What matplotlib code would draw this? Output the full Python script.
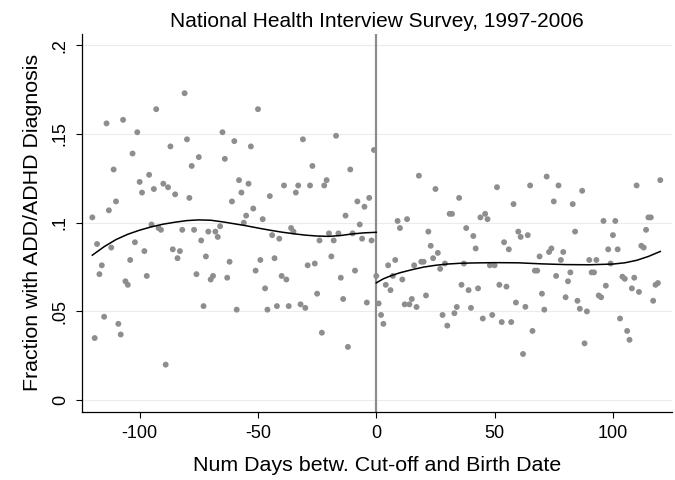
import matplotlib
matplotlib.use("Agg")
import matplotlib.pyplot as plt
import numpy as np

plt.rcParams['font.family'] = ['Liberation Sans', 'DejaVu Sans']
plt.rcParams['axes.unicode_minus'] = False

# ---- data ----
left_days = list(range(-120, 0))
left_vals = [
    0.103, 0.035, 0.088, 0.071, 0.076, 0.047, 0.156, 0.107, 0.086, 0.130,
    0.112, 0.043, 0.037, 0.158, 0.067, 0.065, 0.079, 0.139, 0.089, 0.151,
    0.123, 0.117, 0.084, 0.070, 0.127, 0.099, 0.119, 0.164, 0.097, 0.096,
    0.122, 0.020, 0.120, 0.143, 0.085, 0.116, 0.080, 0.084, 0.096, 0.173,
    0.147, 0.114, 0.132, 0.096, 0.071, 0.137, 0.090, 0.053, 0.081, 0.095,
    0.068, 0.070, 0.095, 0.092, 0.098,
    0.151, 0.136, 0.069, 0.078, 0.112, 0.146, 0.051, 0.124, 0.117, 0.100,
    0.104, 0.122, 0.143, 0.108, 0.073, 0.164, 0.079, 0.102, 0.063, 0.051,
    0.115, 0.093, 0.080, 0.053, 0.091, 0.070, 0.121, 0.068, 0.053, 0.097,
    0.095, 0.117, 0.121, 0.054, 0.147, 0.052, 0.076, 0.121, 0.132, 0.077,
    0.060, 0.090, 0.038, 0.121, 0.124, 0.094, 0.081, 0.090, 0.149, 0.094,
    0.069, 0.057, 0.104, 0.030, 0.130, 0.094, 0.073, 0.112, 0.099, 0.091,
    0.109, 0.055, 0.114, 0.090, 0.141,
]

right_days = list(range(0, 121))
right_vals = [
    0.070, 0.0545, 0.048, 0.043, 0.065, 0.076, 0.062, 0.070, 0.079, 0.101,
    0.097, 0.068, 0.054, 0.102, 0.054, 0.057, 0.076, 0.0525, 0.1265, 0.078,
    0.078, 0.059, 0.095, 0.087, 0.080, 0.119, 0.083, 0.074, 0.048, 0.077,
    0.042, 0.105, 0.105, 0.049, 0.0525, 0.114, 0.065, 0.077, 0.097, 0.062,
    0.052, 0.0925, 0.0855, 0.063, 0.103, 0.046, 0.105, 0.102, 0.076, 0.048,
    0.076, 0.120, 0.065, 0.044, 0.089, 0.064, 0.085, 0.044, 0.1105, 0.055,
    0.095, 0.092, 0.026, 0.0526, 0.093, 0.121, 0.039, 0.073, 0.073, 0.081,
    0.060, 0.051, 0.126, 0.0835, 0.0855, 0.112, 0.070, 0.121, 0.079, 0.0835,
    0.058, 0.067, 0.072, 0.1105, 0.095, 0.056, 0.0515, 0.118, 0.032, 0.050,
    0.079, 0.072, 0.072, 0.079, 0.059, 0.058, 0.101, 0.0645, 0.085, 0.077,
    0.093, 0.101, 0.085, 0.046, 0.0696, 0.0684, 0.039, 0.034, 0.063, 0.069,
    0.121, 0.061, 0.087, 0.086, 0.096, 0.103, 0.103, 0.056, 0.065, 0.066,
    0.124,
]

# fitted curves
left_fit_x = [-120, -115, -110, -105, -100, -95, -90, -85, -80, -75, -70, -65,
              -60, -55, -50, -45, -40, -35, -30, -25, -20, -15, -10, -5, 0]
left_fit_y = [0.0817, 0.0865, 0.0905, 0.0935, 0.0958, 0.0977, 0.0992, 0.1003,
              0.1012, 0.1016, 0.1014, 0.1005, 0.0994, 0.0983, 0.0970, 0.0958,
              0.0947, 0.0938, 0.0930, 0.0925, 0.0923, 0.0928, 0.0937, 0.0943,
              0.0946]
right_fit_x = [0, 3, 6, 10, 15, 20, 25, 30, 35, 40, 50, 60, 70, 80, 90, 100,
               105, 110, 115, 120]
right_fit_y = [0.0661, 0.0684, 0.0700, 0.0718, 0.0735, 0.0750, 0.0760, 0.0767,
               0.0771, 0.0773, 0.0775, 0.0774, 0.0768, 0.0764, 0.0763, 0.0767,
               0.0774, 0.0788, 0.0810, 0.0838]

x_ticks = [-100, -50, 0, 50, 100]
x_ticklabels = ["-100", "-50", "0", "50", "100"]
y_ticks = [0, 0.05, 0.1, 0.15, 0.2]
y_ticklabels = ["0", ".05", ".1", ".15", ".2"]

title = "National Health Interview Survey, 1997-2006"
xlabel = "Num Days betw. Cut-off and Birth Date"
ylabel = "Fraction with ADD/ADHD Diagnosis"

# ---- figure ----
fig = plt.figure(figsize=(6.75, 4.8), dpi=100)
ax = fig.add_axes([0.121, 0.142, 0.874, 0.788])

for yv in y_ticks:
    ax.axhline(yv, color='#ececec', lw=0.8, zorder=0)

ax.axvline(0, color='#8c8c8c', lw=1.6, zorder=1)

ax.scatter(left_days, left_vals, s=18, color='#8e8e8e', edgecolors='none', zorder=2)
ax.scatter(right_days, right_vals, s=18, color='#8e8e8e', edgecolors='none', zorder=2)

ax.plot(left_fit_x, left_fit_y, color='black', lw=1.1, zorder=3)
ax.plot(right_fit_x, right_fit_y, color='black', lw=1.1, zorder=3)

ax.set_xlim(-124.5, 124.8)
ax.set_ylim(-0.0066, 0.2066)

ax.set_xticks(x_ticks)
ax.set_xticklabels(x_ticklabels)
ax.set_yticks(y_ticks)
ax.set_yticklabels(y_ticklabels, rotation=90, va='center')

ax.tick_params(axis='both', direction='out', length=4.3, width=0.8,
               labelsize=13, colors='black', pad=5)

for side in ['top', 'right']:
    ax.spines[side].set_visible(False)
for side in ['left', 'bottom']:
    ax.spines[side].set_color('black')
    ax.spines[side].set_linewidth(0.9)

ax.set_title(title, fontsize=15, pad=5)
ax.set_xlabel(xlabel, fontsize=15.4, labelpad=10)
ax.set_ylabel(ylabel, fontsize=15.4, labelpad=7)

fig.savefig("out.png", dpi=100)
